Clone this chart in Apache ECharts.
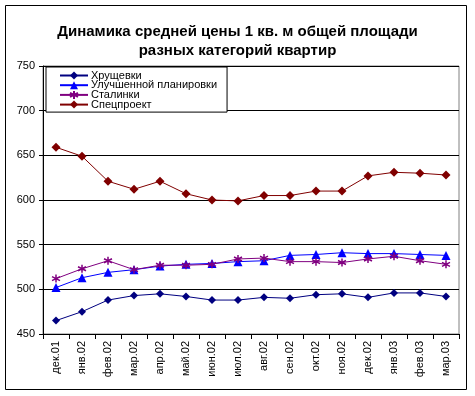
<!DOCTYPE html>
<html>
<head>
<meta charset="utf-8">
<script src="https://cdn.jsdelivr.net/npm/echarts@6/dist/echarts.min.js"></script>
<style>
html,body{margin:0;padding:0;background:#fff;}
#c{width:475px;height:396px;}
</style>
</head>
<body>
<div id="c"></div>
<script>
var categories = ['дек.01','янв.02','фев.02','мар.02','апр.02','май.02','июн.02','июл.02','авг.02','сен.02','окт.02','ноя.02','дек.02','янв.03','фев.03','мар.03'];
var khrushchevki = [465,475,488,493,495,492,488,488,491,490,494,495,491,496,496,492];
var uluchshennoy = [502,513,519,522,526,528,529,531,532,538,539,541,540,540,539,538];
var stalinki = [512,523,532,522,527,527,528,534,535,531,531,530,534,537,532,528];
var spetsproekt = [659,649,621,612,621,607,600,599,605,605,610,610,627,631,630,628];
var seriesNames = ['Хрущевки','Улучшенной планировки','Сталинки','Спецпроект'];
var yTicks = [450,500,550,600,650,700,750];

var chart = echarts.init(document.getElementById('c'), null, {renderer:'canvas'});
var font = 'Liberation Sans, Arial, sans-serif';
var asterisk = 'path://M0,-5L0,5M-4.3,-2.5L4.3,2.5M-4.3,2.5L4.3,-2.5';

function mk(name, data, color, symbol, size, extra) {
  var s = {
    name: name, type: 'line', data: data,
    symbol: symbol, symbolSize: size, showSymbol: true,
    lineStyle: {color: color, width: 1},
    itemStyle: {color: color, borderColor: color, borderWidth: 0},
    emphasis: {disabled: true},
    animation: false
  };
  if (extra) Object.assign(s.itemStyle, extra);
  return s;
}

chart.setOption({
  backgroundColor: '#fff',
  animation: false,
  title: {
    text: 'Динамика средней цены 1 кв. м общей площади\nразных категорий квартир',
    left: 'center', top: 17,
    textStyle: {fontFamily: font, fontSize: 15, fontWeight: 'bold', color: '#000', lineHeight: 19}
  },
  graphic: [{
    type: 'rect', shape: {x: 5.5, y: 5.5, width: 461, height: 384},
    style: {fill: 'none', stroke: '#000', lineWidth: 1}, z: 100, silent: true
  }],
  legend: {
    orient: 'vertical', left: 46, top: 67,
    data: seriesNames,
    itemWidth: 28, itemHeight: 10, itemGap: -1.3,
    padding: [3, 10, 2, 13],
    backgroundColor: '#fff', borderColor: '#000', borderWidth: 1,
    textStyle: {fontFamily: font, fontSize: 11, color: '#000', lineHeight: 10, padding: [0,0,0,-2]},
    z: 10
  },
  grid: {
    left: 43, right: 16, top: 66, bottom: 62,
    show: true, borderColor: '#808080', borderWidth: 1, backgroundColor: '#fff'
  },
  xAxis: {
    type: 'category', data: categories, boundaryGap: true,
    axisLine: {lineStyle: {color: '#000', width: 1}},
    axisTick: {show: true, interval: 0, alignWithLabel: false, length: 5, lineStyle: {color: '#000'}},
    axisLabel: {interval: 0, rotate: 90, fontFamily: font, fontSize: 11, color: '#000', margin: 7},
    splitLine: {show: false}
  },
  yAxis: {
    type: 'value', min: yTicks[0], max: yTicks[yTicks.length-1], interval: 50,
    axisLine: {show: true, lineStyle: {color: '#000', width: 1}},
    axisTick: {show: true, length: 4, lineStyle: {color: '#000'}},
    axisLabel: {fontFamily: font, fontSize: 11, color: '#000', margin: 8},
    splitLine: {show: true, lineStyle: {color: '#000', width: 1}}
  },
  series: [
    mk(seriesNames[0], khrushchevki, '#000080', 'diamond', 8),
    mk(seriesNames[1], uluchshennoy, '#0000FF', 'triangle', 9),
    mk(seriesNames[2], stalinki, '#800080', asterisk, 8, {borderWidth: 1.5, color: 'rgba(0,0,0,0)'}),
    mk(seriesNames[3], spetsproekt, '#800000', 'diamond', 9)
  ]
});
</script>
</body>
</html>
